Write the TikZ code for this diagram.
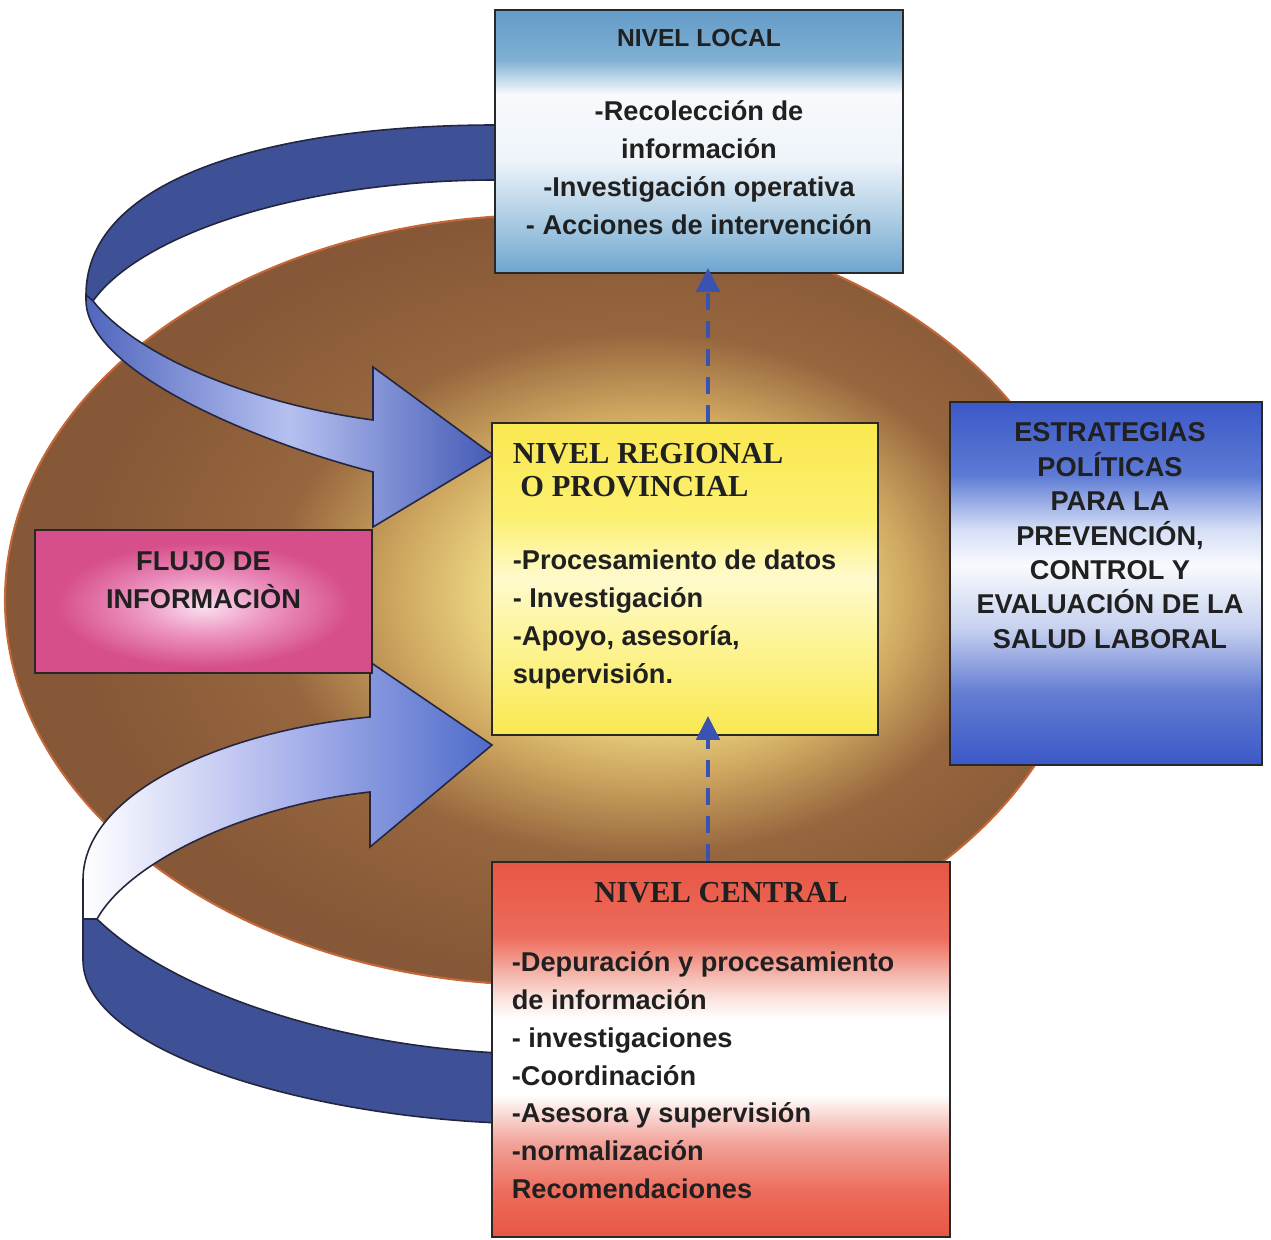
\documentclass[tikz,border=0pt]{standalone}
\usepackage{fontspec}
\setmainfont{Liberation Sans}
\newfontfamily\serifrm{Liberation Serif}
\usetikzlibrary{arrows.meta,positioning}

% colours
\definecolor{boxline}{RGB}{40,40,40}
\definecolor{txtgray}{RGB}{32,32,32}
\definecolor{arrowblue}{RGB}{58,82,178}
\definecolor{ribbonline}{RGB}{35,38,62}
\definecolor{darkband}{RGB}{62,80,150}
\definecolor{ribbonmid}{RGB}{80,102,190}
\definecolor{ribbonlight}{RGB}{182,192,240}
\definecolor{ribbonend}{RGB}{68,90,182}
\definecolor{lowmid}{RGB}{172,180,236}
\definecolor{lowend}{RGB}{78,108,202}
\definecolor{ellipseedge}{RGB}{196,104,58}
\definecolor{glowa}{RGB}{255,245,180}
\definecolor{glowb}{RGB}{245,228,140}
\definecolor{glowc}{RGB}{205,165,95}
\definecolor{glowd}{RGB}{150,102,62}
\definecolor{glowe}{RGB}{135,88,55}
\definecolor{loca}{RGB}{100,155,200}
\definecolor{locb}{RGB}{128,176,212}
\definecolor{locc}{RGB}{248,250,252}
\definecolor{locd}{RGB}{238,244,250}
\definecolor{loce}{RGB}{165,200,225}
\definecolor{locf}{RGB}{110,165,208}
\definecolor{rega}{RGB}{250,232,80}
\definecolor{regb}{RGB}{252,240,112}
\definecolor{regc}{RGB}{255,250,205}
\definecolor{regd}{RGB}{253,244,150}
\definecolor{pinka}{RGB}{250,222,238}
\definecolor{pinkb}{RGB}{236,148,192}
\definecolor{pinkc}{RGB}{214,78,138}
\definecolor{stra}{RGB}{60,88,200}
\definecolor{strb}{RGB}{92,122,212}
\definecolor{strc}{RGB}{212,222,246}
\definecolor{strd}{RGB}{248,250,253}
\definecolor{stre}{RGB}{200,210,240}
\definecolor{strf}{RGB}{100,125,210}
\definecolor{cena}{RGB}{232,86,68}
\definecolor{cenb}{RGB}{237,108,92}
\definecolor{cenc}{RGB}{250,226,220}
\definecolor{cend}{RGB}{255,255,255}
\definecolor{cene}{RGB}{241,162,152}

% fills
\pgfdeclareradialshading{ellglow}{\pgfpoint{6.5bp}{0.5bp}}{color(0bp)=(glowa); color(7bp)=(glowb); color(12bp)=(glowc); color(17bp)=(glowd); color(25bp)=(glowe); color(50bp)=(glowe)}
\pgfdeclareradialshading{pinkglow}{\pgfpoint{0bp}{-2bp}}{color(0bp)=(pinka); color(10bp)=(pinkb); color(22bp)=(pinkc); color(50bp)=(pinkc)}
\pgfdeclareverticalshading{localfill}{100bp}{color(0bp)=(locf); color(25bp)=(locf); color(34bp)=(loce); color(46.5bp)=(locd); color(59bp)=(locc); color(65.5bp)=(locb); color(75bp)=(loca); color(100bp)=(loca)}
\pgfdeclareverticalshading{regionalfill}{100bp}{color(0bp)=(rega); color(25bp)=(rega); color(40bp)=(regd); color(50bp)=(regc); color(60bp)=(regb); color(75bp)=(rega); color(100bp)=(rega)}
\pgfdeclareverticalshading{stratfill}{100bp}{color(0bp)=(stra); color(25bp)=(stra); color(35bp)=(strf); color(44bp)=(stre); color(52.5bp)=(strd); color(57.5bp)=(strc); color(65bp)=(strb); color(75bp)=(stra); color(100bp)=(stra)}
\pgfdeclareverticalshading{centralfill}{100bp}{color(0bp)=(cena); color(25bp)=(cena); color(31bp)=(cenb); color(37.5bp)=(cene); color(44bp)=(cend); color(54bp)=(cend); color(57bp)=(cenc); color(65bp)=(cenb); color(75bp)=(cena); color(100bp)=(cena)}

\newcommand{\txtfont}{\fontsize{7.74}{10.75}\selectfont\bfseries}
\newcommand{\hdfont}{\serifrm\fontsize{8.68}{10.75}\selectfont\bfseries}

\tikzset{
  levelbox/.style={draw=boxline, line width=0.5pt, shade, inner sep=0pt},
  bodytext/.style={font=\txtfont, text=txtgray, inner sep=0pt},
  ribbon/.style={draw=ribbonline, line width=0.45pt},
  dasharrow/.style={draw=arrowblue, line width=1.4pt, dash pattern=on 0.17cm off 0.11cm,
    -{Triangle[length=0.24cm,width=0.23cm]}}
}

\begin{document}
\begin{tikzpicture}
  \useasboundingbox (0,0) rectangle (12.71,12.39);

  % background ellipse
  \shadedraw[shading=ellglow, draw=ellipseedge, line width=0.6pt] (5.46,6.39) ellipse [x radius=5.41, y radius=3.85];

  % upper ribbon
  \filldraw[ribbon, fill=darkband] (4.97,11.14) .. controls (2.80,11.14) and (0.86,10.64) .. (0.86,9.44)
    -- (0.93,9.38) .. controls (1.40,10.04) and (3.00,10.59) .. (4.97,10.59) -- cycle;
  \shadedraw[ribbon, left color=ribbonmid, right color=ribbonend, middle color=ribbonlight]
    (0.86,9.44) -- (0.86,9.39) .. controls (0.86,8.69) and (2.50,7.99) .. (3.73,7.67)
    -- (3.73,7.12) -- (4.93,7.84) -- (3.73,8.72) -- (3.73,8.19)
    .. controls (2.60,8.34) and (1.40,8.79) .. (0.93,9.38) -- cycle;

  % lower ribbon
  \filldraw[ribbon, fill=darkband] (0.83,3.20) -- (0.83,2.79) .. controls (0.83,1.89) and (3.00,1.24) .. (5.00,1.16)
    -- (5.00,1.86) .. controls (3.30,1.94) and (1.70,2.49) .. (0.97,3.20) -- cycle;
  \shadedraw[ribbon, left color=white, right color=lowend, middle color=lowmid]
    (3.70,5.22) .. controls (2.30,5.09) and (0.83,4.49) .. (0.83,3.59) -- (0.83,3.20) -- (0.97,3.20)
    .. controls (1.30,3.79) and (2.50,4.34) .. (3.70,4.47)
    -- (3.70,3.92) -- (4.92,4.94) -- (3.70,5.77) -- cycle;

  % boxes
  \node[levelbox, shading=localfill, minimum width=4.08cm, minimum height=2.63cm] (local) at (6.99,10.975) {};
  \node[levelbox, shading=regionalfill, minimum width=3.86cm, minimum height=3.12cm] (regional) at (6.85,6.60) {};
  \node[levelbox, shading=pinkglow, minimum width=3.37cm, minimum height=1.43cm] (flujo) at (2.035,6.375) {};
  \node[levelbox, shading=stratfill, minimum width=3.12cm, minimum height=3.63cm] (estrategias) at (11.06,6.555) {};
  \node[levelbox, shading=centralfill, minimum width=4.58cm, minimum height=3.75cm] (central) at (7.21,1.895) {};

  % texts
  \node[bodytext, align=center, below=0.2cm of local.north] (localtxt)
    {{\fontsize{7}{8}\selectfont NIVEL LOCAL}\\[10.3pt]-Recolección de\\información\\-Investigación operativa\\- Acciones de intervención};
  \node[bodytext, align=left, anchor=north west] (regionaltxt) at ([xshift=0.21cm, yshift=-0.2cm]regional.north west)
    {{\hdfont NIVEL REGIONAL}\\[-1.08pt]{\hdfont ~O PROVINCIAL}\\[10.02pt]-Procesamiento de datos\\- Investigación\\-Apoyo, asesoría,\\supervisión.};
  \node[bodytext, align=center, below=0.22cm of flujo.north] (flujotxt) {FLUJO DE\\INFORMACIÒN};
  \node[bodytext, font={\fontsize{7.74}{9.79}\selectfont\bfseries}, align=center, below=0.21cm of estrategias.north, xshift=0.04cm] (estrategiastxt)
    {ESTRATEGIAS\\POLÍTICAS\\PARA LA\\PREVENCIÓN,\\CONTROL Y\\EVALUACIÓN DE LA\\SALUD LABORAL};
  \node[bodytext, font=\hdfont, below=0.2cm of central.north] (centralhd) {NIVEL CENTRAL};
  \node[bodytext, align=left, anchor=north west] (centraltxt) at ([xshift=0.2cm, yshift=-0.9cm]central.north west)
    {-Depuración y procesamiento\\de información\\- investigaciones\\-Coordinación\\-Asesora y supervisión\\-normalización\\Recomendaciones};

  % dashed links
  \coordinate (dashx) at (7.08,0);
  \coordinate (regtip) at ([yshift=0.2cm]regional.south);
  \coordinate (loctip) at ([yshift=0.06cm]local.south);
  \draw[dasharrow] (central.north -| dashx) -- (regtip -| dashx);
  \draw[dasharrow] (regional.north -| dashx) -- (loctip -| dashx);
\end{tikzpicture}
\end{document}
